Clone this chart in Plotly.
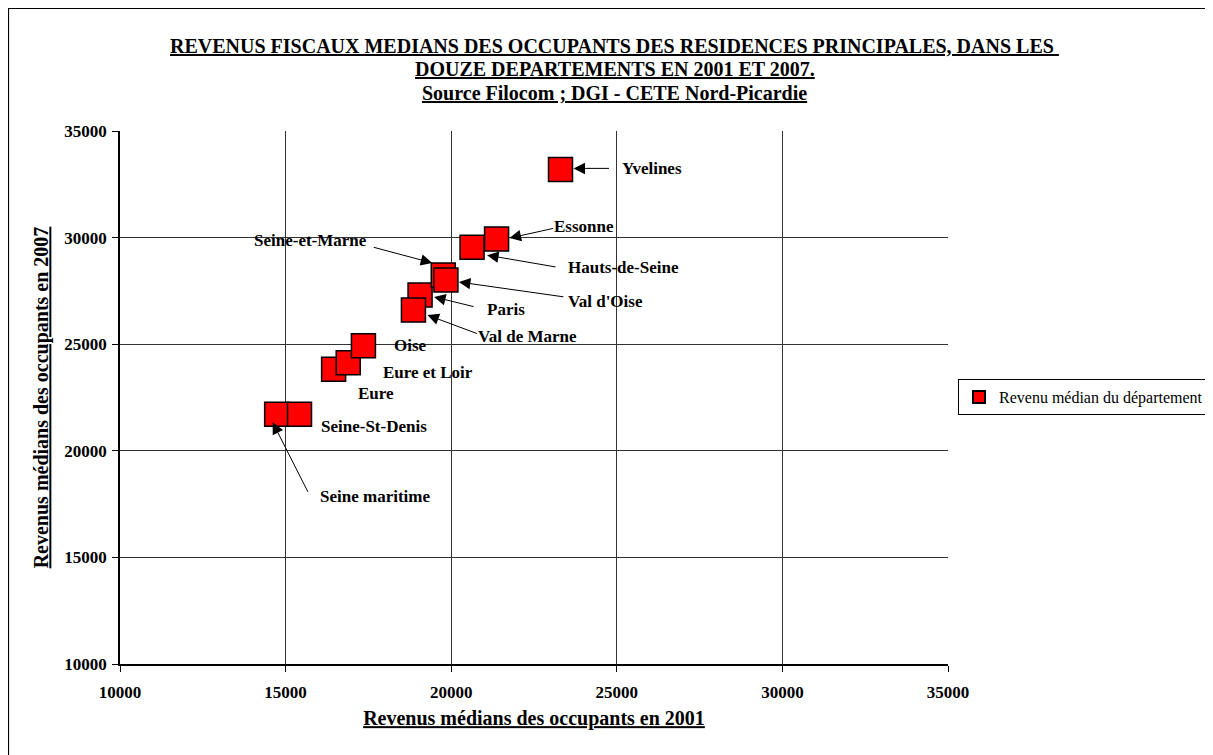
import plotly.graph_objects as go

# ---- data ----
departements = ["Seine maritime", "Seine-St-Denis", "Eure", "Eure et Loir", "Oise",
                "Paris", "Val de Marne", "Seine-et-Marne", "Val d'Oise",
                "Hauts-de-Seine", "Essonne", "Yvelines"]
revenu_2001 = [14730, 15420, 16450, 16890, 17350, 19060, 18860, 19760, 19840, 20630, 21370, 23300]
revenu_2007 = [21710, 21710, 23820, 24130, 24930, 27310, 26600, 28250, 28010, 29550, 29930, 33200]
tick_vals = [10000, 15000, 20000, 25000, 30000, 35000]
tick_text = ["10000", "15000", "20000", "25000", "30000", "35000"]
serie_nom = "Revenu médian du département"
title_lines = ["REVENUS FISCAUX MEDIANS DES OCCUPANTS DES RESIDENCES PRINCIPALES, DANS LES ",
               "DOUZE DEPARTEMENTS EN 2001 ET 2007.",
               "Source Filocom ; DGI - CETE Nord-Picardie"]

# ---- layout parameters (pixels, figure coordinates) ----
W, H = 1213, 755
L, T = 112, 123
PLOT_RIGHT, PLOT_BOTTOM = 940, 656
R, B = W - PLOT_RIGHT, H - PLOT_BOTTOM
FONT = "Liberation Serif, Times New Roman, serif"
TITLE_LINE_Y = [38, 61.5, 85]

# label placement: (xanchor, xshift, yshift)
label_pos = {
    "Yvelines": ("left", 59, 1),
    "Essonne": ("left", 55, 13),
    "Hauts-de-Seine": ("left", 94, -20),
    "Seine-et-Marne": ("right", -74, 34),
    "Val d'Oise": ("left", 120, -21),
    "Paris": ("left", 65, -15),
    "Val de Marne": ("left", 63, -26),
    "Oise": ("left", 29, 0),
    "Eure et Loir": ("left", 33, -10),
    "Eure": ("left", 22, -24),
    "Seine-St-Denis": ("left", 19, -12),
    "Seine maritime": ("left", 41, -82),
}
# arrow placement: (xshift, yshift, ax, ay)
arrow_pos = {
    "Yvelines": (13, 1, 37, 0),
    "Essonne": (13, 1, 45, -10),
    "Hauts-de-Seine": (15, -8, 70, 12),
    "Seine-et-Marne": (-11, 12, -60, -16),
    "Val d'Oise": (13, -2, 106, 15),
    "Paris": (14, -2, 41, 10),
    "Val de Marne": (14, -5, 51, 19),
    "Seine maritime": (-4, -8, 36, 71),
}

fig = go.Figure()
fig.add_trace(go.Scatter(
    x=revenu_2001, y=revenu_2007, mode="markers", name=serie_nom,
    text=departements,
    marker=dict(symbol="square", size=24, color="#FF0000",
                line=dict(color="#000000", width=1.5)),
))


def px_x(p):
    return (p - L) / (W - L - R)


def px_y(p):
    return (H - B - p) / (H - T - B)


annotations = []
# title (three underlined, bold lines)
for line, ly in zip(title_lines, TITLE_LINE_Y):
    annotations.append(dict(
        x=px_x(606.5), y=px_y(ly), xref="paper", yref="paper",
        text="<b><u>%s</u></b>" % line, showarrow=False,
        xanchor="center", yanchor="middle",
        font=dict(family=FONT, size=20, color="#000000"),
    ))

for name, xv, yv in zip(departements, revenu_2001, revenu_2007):
    xa, xs, ys = label_pos[name]
    annotations.append(dict(
        x=xv, y=yv, xref="x", yref="y", text="<b>%s</b>" % name,
        showarrow=False, xanchor=xa, yanchor="middle", xshift=xs, yshift=ys,
        font=dict(family=FONT, size=17, color="#000000"),
    ))
    if name in arrow_pos:
        s_x, s_y, ax, ay = arrow_pos[name]
        annotations.append(dict(
            x=xv, y=yv, xref="x", yref="y", text="", showarrow=True,
            xshift=s_x, yshift=s_y, ax=ax, ay=ay, axref="pixel", ayref="pixel",
            arrowhead=2, arrowsize=2.3, arrowwidth=1, arrowcolor="#000000",
            standoff=0, startstandoff=0,
        ))

shapes = [dict(type="rect", xref="paper", yref="paper",
               x0=px_x(0.5), x1=px_x(W + 5), y0=px_y(H + 5), y1=px_y(0.5),
               line=dict(color="#000000", width=1.2), fillcolor="rgba(0,0,0,0)",
               layer="below")]

axis_common = dict(
    showline=True, linecolor="#000000", linewidth=1.5, mirror=False,
    showgrid=True, gridcolor="#333333", gridwidth=1,
    ticks="outside", ticklen=6, tickcolor="#000000", tickwidth=1,
    tickvals=tick_vals, ticktext=tick_text,
    tickfont=dict(family=FONT, size=17, color="#000000", weight="bold"),
    zeroline=False, range=[10000, 35000], fixedrange=True,
)

fig.update_layout(
    width=W, height=H,
    margin=dict(l=L, r=R, t=T, b=B, autoexpand=False),
    paper_bgcolor="#FFFFFF", plot_bgcolor="#FFFFFF",
    font=dict(family=FONT, color="#000000"),
    xaxis=dict(axis_common,
               title=dict(text="<u>Revenus médians des occupants en 2001</u>",
                          font=dict(family=FONT, size=20, weight="bold"), standoff=10),
               ticklabelstandoff=6),
    yaxis=dict(axis_common,
               title=dict(text="<u>Revenus médians des occupants en 2007</u>",
                          font=dict(family=FONT, size=20, weight="bold"), standoff=10),
               ticklabelstandoff=2),
    showlegend=True,
    legend=dict(x=px_x(950), xanchor="left", y=px_y(389), yanchor="middle",
                bordercolor="#000000", borderwidth=1, bgcolor="#FFFFFF",
                font=dict(family=FONT, size=16, color="#000000"),
                itemsizing="constant", itemwidth=30),
    annotations=annotations,
    shapes=shapes,
)

fig.write_html("out.html")
